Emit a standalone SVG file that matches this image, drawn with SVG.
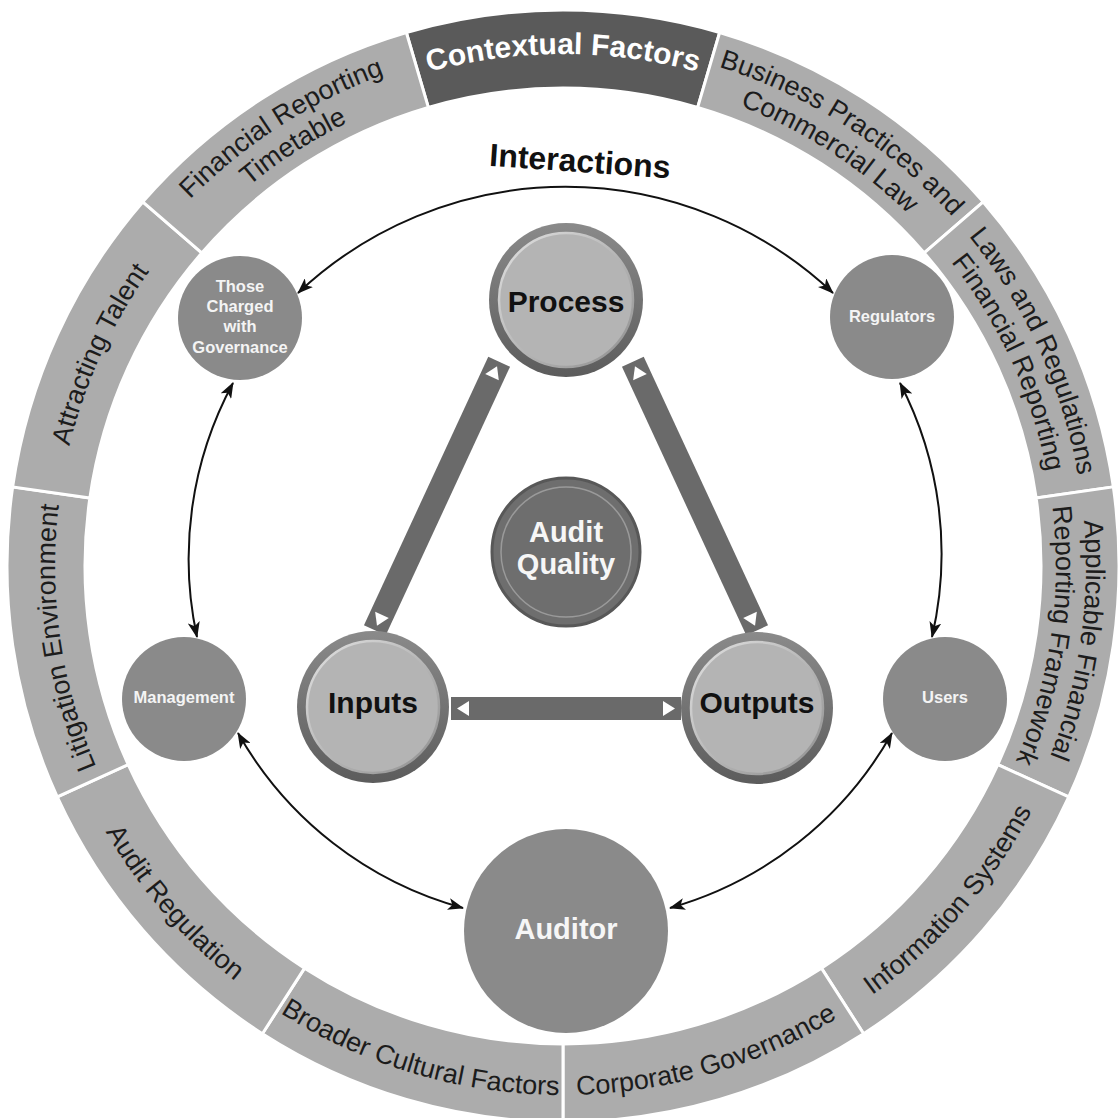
<svg xmlns="http://www.w3.org/2000/svg" width="1120" height="1118" viewBox="0 0 1120 1118">
<defs>
<style>
.seg{fill:#acacac;stroke:#ffffff;stroke-width:3}
.seg.ctx{fill:#5a5a5a}
.rt{font-family:"Liberation Sans",Arial,sans-serif;font-size:27px;fill:#1c1c1c;text-anchor:middle}
.ctxt{font-weight:bold;font-size:30px;fill:#ffffff}
.small{fill:#8a8a8a}
.nl{font-family:"Liberation Sans",Arial,sans-serif;font-weight:bold;fill:#f4f4f4;text-anchor:middle;font-size:16.5px}
.bl{font-family:"Liberation Sans",Arial,sans-serif;font-weight:bold;fill:#111111;text-anchor:middle;font-size:30px}
.wl{font-family:"Liberation Sans",Arial,sans-serif;font-weight:bold;fill:#f6f6f6;text-anchor:middle;font-size:29px}
.face{fill:#b4b4b4;stroke:url(#btnHi);stroke-width:2.5}
.conn{fill:none;stroke:#111111;stroke-width:2;marker-start:url(#ah);marker-end:url(#ah)}
.bar{fill:#6a6a6a}
.tri{fill:#ffffff}
.inter{font-family:"Liberation Sans",Arial,sans-serif;font-weight:bold;font-size:32px;fill:#111111;text-anchor:middle}
</style>
<path id="seg" d="M -156.64 -533.48 A 556 556 0 0 1 156.64 -533.48 L 134.67 -458.64 A 478 478 0 0 0 -134.67 -458.64 Z"/>
<path id="cw508" d="M -439.9 -254 A 508 508 0 0 1 439.9 -254"/>
<path id="cw523" d="M -452.9 -261.5 A 523 523 0 0 1 452.9 -261.5"/>
<path id="cw493" d="M -426.9 -246.5 A 493 493 0 0 1 426.9 -246.5"/>
<path id="cw512" d="M -443.4 -256 A 512 512 0 0 1 443.4 -256"/>
<path id="ccw529" d="M 458.1 -264.5 A 529 529 0 0 0 -458.1 -264.5"/>
<marker id="ah" viewBox="0 0 16 12" refX="15" refY="6" markerWidth="16" markerHeight="12" markerUnits="userSpaceOnUse" orient="auto-start-reverse">
<path d="M0,0 L16,6 L0,12 L4,6 Z" fill="#111111"/>
</marker>
<linearGradient id="btnRim" x1="0" y1="0" x2="0" y2="1">
<stop offset="0" stop-color="#8a8a8a"/>
<stop offset="1" stop-color="#5c5c5c"/>
</linearGradient>
<linearGradient id="btnHi" x1="0" y1="0" x2="1" y2="1">
<stop offset="0" stop-color="#e2e2e2"/>
<stop offset="1" stop-color="#8e8e8e"/>
</linearGradient>
</defs>
<rect width="1120" height="1118" fill="#ffffff"/>

<g id="ring" transform="translate(563 566)">
<g id="seg-contextual-factors"><use href="#seg" class="seg ctx"/><text class="rt ctxt"><textPath href="#cw512" startOffset="50%">Contextual Factors</textPath></text></g>
<g id="seg-business-practices" transform="rotate(32.727)"><use href="#seg" class="seg"/><text class="rt"><textPath href="#cw523" startOffset="50%">Business Practices and</textPath></text><text class="rt"><textPath href="#cw493" startOffset="50%">Commercial Law</textPath></text></g>
<g id="seg-laws-regulations" transform="rotate(65.455)"><use href="#seg" class="seg"/><text class="rt"><textPath href="#cw523" startOffset="50%">Laws and Regulations</textPath></text><text class="rt"><textPath href="#cw493" startOffset="50%">Financial Reporting</textPath></text></g>
<g id="seg-applicable-framework" transform="rotate(98.182)"><use href="#seg" class="seg"/><text class="rt"><textPath href="#cw523" startOffset="50%">Applicable Financial</textPath></text><text class="rt"><textPath href="#cw493" startOffset="50%">Reporting Framework</textPath></text></g>
<g id="seg-information-systems" transform="rotate(130.909)"><use href="#seg" class="seg"/><text class="rt"><textPath href="#ccw529" startOffset="50%">Information Systems</textPath></text></g>
<g id="seg-corporate-governance" transform="rotate(163.636)"><use href="#seg" class="seg"/><text class="rt"><textPath href="#ccw529" startOffset="50%">Corporate Governance</textPath></text></g>
<g id="seg-broader-cultural" transform="rotate(196.364)"><use href="#seg" class="seg"/><text class="rt"><textPath href="#ccw529" startOffset="50%">Broader Cultural Factors</textPath></text></g>
<g id="seg-audit-regulation" transform="rotate(229.091)"><use href="#seg" class="seg"/><text class="rt"><textPath href="#ccw529" startOffset="50%">Audit Regulation</textPath></text></g>
<g id="seg-litigation" transform="rotate(261.818)"><use href="#seg" class="seg"/><text class="rt"><textPath href="#cw508" startOffset="50%">Litigation Environment</textPath></text></g>
<g id="seg-attracting-talent" transform="rotate(294.545)"><use href="#seg" class="seg"/><text class="rt"><textPath href="#cw508" startOffset="50%">Attracting Talent</textPath></text></g>
<g id="seg-financial-timetable" transform="rotate(327.273)"><use href="#seg" class="seg"/><text class="rt"><textPath href="#cw523" startOffset="50%">Financial Reporting</textPath></text><text class="rt"><textPath href="#cw493" startOffset="50%">Timetable</textPath></text></g>
</g>

<text id="label-interactions" class="inter" x="580" y="172" transform="rotate(4 580 162)">Interactions</text>

<g id="connectors">
<path class="conn" d="M 298 293 A 390 390 0 0 1 833 293"/>
<path class="conn" d="M 233 383 A 370 370 0 0 0 197 637"/>
<path class="conn" d="M 900 383 A 370 370 0 0 1 932 637"/>
<path class="conn" d="M 238 733 A 370 370 0 0 0 463 908"/>
<path class="conn" d="M 892 733 A 370 370 0 0 1 670 908"/>
<g id="bar-inputs-outputs"><rect x="451" y="697" width="230" height="23" class="bar"/><polygon class="tri" points="457,708.5 469,701 469,716"/><polygon class="tri" points="675,708.5 663,701 663,716"/></g>
<g id="bar-process-inputs" transform="translate(437 496) rotate(114.83)"><rect x="-148" y="-12" width="296" height="24" class="bar"/><polygon class="tri" points="-143,0 -131,-7.5 -131,7.5"/><polygon class="tri" points="143,0 131,-7.5 131,7.5"/></g>
<g id="bar-process-outputs" transform="translate(695 496) rotate(65.17)"><rect x="-148" y="-12" width="296" height="24" class="bar"/><polygon class="tri" points="-143,0 -131,-7.5 -131,7.5"/><polygon class="tri" points="143,0 131,-7.5 131,7.5"/></g>
</g>

<g id="node-tcwg"><circle cx="240" cy="318" r="62" class="small"/><text class="nl"><tspan x="240" y="292">Those</tspan><tspan x="240" y="312">Charged</tspan><tspan x="240" y="332">with</tspan><tspan x="240" y="353">Governance</tspan></text></g>
<g id="node-regulators"><circle cx="892" cy="317" r="62" class="small"/><text class="nl" x="892" y="322">Regulators</text></g>
<g id="node-management"><circle cx="184" cy="699" r="62" class="small"/><text class="nl" x="184" y="703">Management</text></g>
<g id="node-users"><circle cx="945" cy="699" r="62" class="small"/><text class="nl" x="945" y="703">Users</text></g>
<g id="node-auditor"><circle cx="566" cy="931" r="102" class="small"/><text class="wl" x="566" y="939">Auditor</text></g>
<g id="node-process"><circle cx="566" cy="300" r="77" fill="url(#btnRim)"/><circle cx="566" cy="300" r="67" class="face"/><text class="bl" x="566" y="312">Process</text></g>
<g id="node-inputs"><circle cx="373" cy="707" r="76" fill="url(#btnRim)"/><circle cx="373" cy="707" r="66" class="face"/><text class="bl" x="373" y="713">Inputs</text></g>
<g id="node-outputs"><circle cx="757" cy="708" r="76" fill="url(#btnRim)"/><circle cx="757" cy="708" r="66" class="face"/><text class="bl" x="757" y="713">Outputs</text></g>
<g id="node-audit-quality"><circle cx="566" cy="552" r="74" fill="#6e6e6e" stroke="#585858" stroke-width="3"/><circle cx="566" cy="552" r="65" fill="none" stroke="#9a9a9a" stroke-width="1.5"/><text class="wl"><tspan x="566" y="542">Audit</tspan><tspan x="566" y="574">Quality</tspan></text></g>
</svg>
